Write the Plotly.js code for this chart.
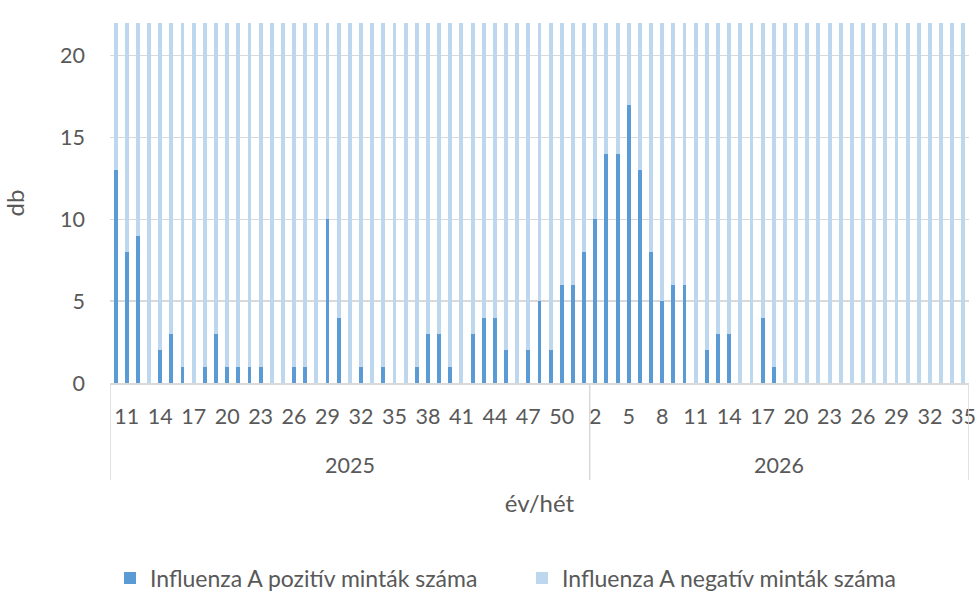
<!DOCTYPE html>
<html><head><meta charset="utf-8">
<script src="https://cdn.plot.ly/plotly-3.0.1.min.js"></script>
<style>html,body{margin:0;padding:0;background:#fff}</style>
</head><body><div id="chart" style="width:979px;height:601px"></div>
<script>
const years = ['2025', '2026'];
const weeks2025 = [10,11,12,13,14,15,16,17,18,19,20,21,22,23,24,25,26,27,28,29,30,31,32,33,34,35,36,37,38,39,40,41,42,43,44,45,46,47,48,49,50,51,52];
const weeks2026 = [2,3,4,5,6,7,8,9,10,11,12,13,14,15,16,17,18,19,20,21,22,23,24,25,26,27,28,29,30,31,32,33,34,35];
const positive2025 = [13,8,9,0,2,3,1,0,1,3,1,1,1,1,0,0,1,1,0,10,4,0,1,0,1,0,0,1,3,3,1,0,3,4,4,2,0,2,5,2,6,6,8];
const positive2026 = [10,14,14,17,13,8,5,6,6,0,2,3,3,0,0,4,1,0,0,0,0,0,0,0,0,0,0,0,0,0,0,0,0,0];
const negative2025 = [62,58,55,51,49,47,44,40,38,35,33,31,30,29,28,27,28,26,27,30,31,32,33,35,34,36,38,40,42,44,46,48,50,55,58,61,64,67,70,74,78,80,82];
const negative2026 = [85,88,84,80,76,71,66,62,58,54,50,47,44,41,39,37,35,34,33,32,31,30,30,29,29,28,28,27,27,26,26,26,25,25];
const seriesNames = ['Influenza A pozitív minták száma', 'Influenza A negatív minták száma'];
const colors = ['#5B9BD5', '#BDD7EE'];

const groups = [
  {year: years[0], weeks: weeks2025, pos: positive2025, neg: negative2025},
  {year: years[1], weeks: weeks2026, pos: positive2026, neg: negative2026}
];
const cats = [], ticktext = [], tickvals = [], posAll = [], negAll = [];
const shapes = [], annotations = [];
const lineCol = '#D9D9D9';
const txtCol = '#595959';
const FONT = 'Lato, "Open Sans", sans-serif';
let idx = 0;
groups.forEach(g => {
  const start = idx;
  g.weeks.forEach((w, i) => {
    const key = g.year + '/' + w;
    cats.push(key);
    posAll.push(g.pos[i]);
    negAll.push(g.neg[i]);
    if (idx % 3 === 1) { tickvals.push(key); ticktext.push(String(w)); }
    idx++;
  });
  shapes.push({type:'line', xref:'x', yref:'paper', x0:start-0.5, x1:start-0.5, y0:0, y1:-0.27, line:{color:lineCol, width:1.5}});
  annotations.push({xref:'x', yref:'paper', x:(start + idx - 1)/2, y:-0.228, yanchor:'middle', text:g.year, showarrow:false, font:{family:FONT, size:21.5, color:txtCol}});
});
shapes.push({type:'line', xref:'x', yref:'paper', x0:idx-0.5, x1:idx-0.5, y0:0, y1:-0.27, line:{color:lineCol, width:1.5}});

const traces = [
  {type:'bar', name:seriesNames[0], x:cats, y:posAll, marker:{color:colors[0]}, hoverinfo:'skip'},
  {type:'bar', name:seriesNames[1], x:cats, y:negAll, marker:{color:colors[1]}, hoverinfo:'skip'}
];

const layout = {
  width: 979, height: 601,
  margin: {l:110, r:10, t:23, b:218},
  barmode: 'stack', bargap: 0.65,
  paper_bgcolor: '#fff', plot_bgcolor: '#fff',
  font: {family: FONT, color: txtCol},
  showlegend: true,
  legend: {orientation:'h', xref:'container', yref:'container', x:110/979, xanchor:'left', y:1 - 578/601, yanchor:'middle',
           font:{family:FONT, size:23, color:txtCol}, entrywidth:367, entrywidthmode:'pixels', traceorder:'normal'},
  xaxis: {type:'category', categoryorder:'array', categoryarray:cats, range:[-0.5, cats.length-0.5],
          tickmode:'array', tickvals:tickvals, ticktext:ticktext, tickangle:0,
          showgrid:false, showline:true, linecolor:lineCol, linewidth:1.5, ticks:'', zeroline:false,
          ticklabelstandoff:14,
          tickfont:{family:FONT, size:21.5, color:txtCol},
          title:{text:'év/hét', font:{family:FONT, size:24, color:txtCol}, standoff:67}},
  yaxis: {range:[0,22], tickvals:[0,5,10,15,20], showgrid:true, gridcolor:lineCol, gridwidth:1.5,
          zeroline:false, showline:false, ticks:'', ticklabelstandoff:24,
          tickfont:{family:FONT, size:21.5, color:txtCol},
          title:{text:'db', font:{family:FONT, size:24, color:txtCol}, standoff:30}},
  shapes: shapes, annotations: annotations
};
Plotly.newPlot('chart', traces, layout, {displayModeBar:false, staticPlot:true});
</script></body></html>
